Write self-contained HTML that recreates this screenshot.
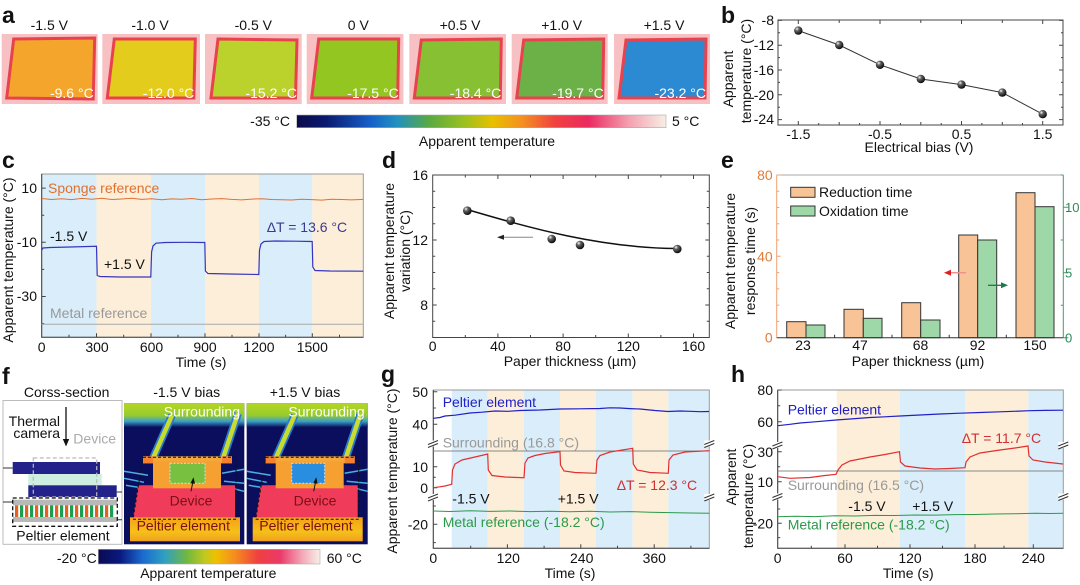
<!DOCTYPE html>
<html><head><meta charset="utf-8"><style>
html,body{margin:0;padding:0;background:#fff;}
svg{display:block;}
text{font-family:"Liberation Sans",Arial,sans-serif;font-size:14px;fill:#111;}
.L{font-weight:bold;font-size:23px;}
.m{text-anchor:middle;}
.e{text-anchor:end;}
</style></head><body>
<svg width="1080" height="585" viewBox="0 0 1080 585" xmlns="http://www.w3.org/2000/svg">
<defs>
<linearGradient id="cbA" x1="0" x2="1" y1="0" y2="0">
<stop offset="0" stop-color="#0b0b4a"/><stop offset="0.08" stop-color="#0a1a70"/><stop offset="0.2" stop-color="#1660c8"/><stop offset="0.27" stop-color="#2090c0"/><stop offset="0.36" stop-color="#5aaa40"/><stop offset="0.45" stop-color="#98c020"/><stop offset="0.53" stop-color="#e8c000"/><stop offset="0.61" stop-color="#f59020"/><stop offset="0.70" stop-color="#f04040"/><stop offset="0.79" stop-color="#ea2a60"/><stop offset="0.9" stop-color="#f4a0b0"/><stop offset="1" stop-color="#f6efe6"/>
</linearGradient>
<linearGradient id="cbF" x1="0" x2="1" y1="0" y2="0">
<stop offset="0" stop-color="#0a0a50"/><stop offset="0.1" stop-color="#0a1a80"/><stop offset="0.2" stop-color="#1a6ad0"/><stop offset="0.3" stop-color="#30a0c0"/><stop offset="0.4" stop-color="#70b840"/><stop offset="0.48" stop-color="#c0c820"/><stop offset="0.53" stop-color="#f0c000"/><stop offset="0.62" stop-color="#f58a20"/><stop offset="0.72" stop-color="#f04040"/><stop offset="0.82" stop-color="#ea3a68"/><stop offset="0.92" stop-color="#f4a8b8"/><stop offset="1" stop-color="#f7f0e6"/>
</linearGradient>
<radialGradient id="sph" cx="0.35" cy="0.3" r="0.75"><stop offset="0" stop-color="#fff"/><stop offset="0.3" stop-color="#666"/><stop offset="1" stop-color="#000"/></radialGradient>
<linearGradient id="topband" x1="0" x2="0" y1="0" y2="1"><stop offset="0" stop-color="#b4d626"/><stop offset="0.5" stop-color="#98cc2c"/><stop offset="0.75" stop-color="#3aa0c8"/><stop offset="1" stop-color="#0b0e5c"/></linearGradient>
<linearGradient id="botband" x1="0" x2="0" y1="0" y2="1"><stop offset="0" stop-color="#f5a018"/><stop offset="0.6" stop-color="#f6c018"/><stop offset="1" stop-color="#f0a020"/></linearGradient>
</defs>

<!-- ============ Panel a ============ -->
<text class="L" x="2" y="23">a</text>
<g>
<text class="m" x="49.3" y="30">-1.5 V</text>
<text class="m" x="150" y="30">-1.0 V</text>
<text class="m" x="253.3" y="30">-0.5 V</text>
<text class="m" x="358.3" y="30">0 V</text>
<text class="m" x="460" y="30">+0.5 V</text>
<text class="m" x="561.7" y="30">+1.0 V</text>
<text class="m" x="664" y="30">+1.5 V</text>
</g>
<g transform="translate(1.7,34)"><rect width="96" height="70" fill="#f7c0c2"/><polygon points="12,5 93,4 91.5,65 5,64" fill="#f3a52c" stroke="#e8424e" stroke-width="3"/><text class="e" x="92" y="64" style="fill:#fff">-9.6 °C</text></g>
<g transform="translate(102.3,34)"><rect width="97.7" height="70" fill="#f7c0c2"/><polygon points="12,5 93,5 91.5,64 5,64" fill="#e3cc1c" stroke="#e8424e" stroke-width="3"/><text class="e" x="92" y="64" style="fill:#fff">-12.0 °C</text></g>
<g transform="translate(205,34)"><rect width="96.7" height="70" fill="#f7c0c2"/><polygon points="13,5 92,6 90.5,64 6,64" fill="#bcd22c" stroke="#e8424e" stroke-width="3"/><text class="e" x="92" y="64" style="fill:#fff">-15.2 °C</text></g>
<g transform="translate(306.7,34)"><rect width="96.7" height="70" fill="#f7c0c2"/><polygon points="12,5 92,5 91,64 5,64" fill="#93c620" stroke="#e8424e" stroke-width="3"/><text class="e" x="92" y="64" style="fill:#fff">-17.5 °C</text></g>
<g transform="translate(409.3,34)"><rect width="96.7" height="70" fill="#f7c0c2"/><polygon points="12,6 92,5 91,64 5,64" fill="#88c034" stroke="#e8424e" stroke-width="3"/><text class="e" x="92" y="64" style="fill:#fff">-18.4 °C</text></g>
<g transform="translate(511.7,34)"><rect width="96" height="70" fill="#f7c0c2"/><polygon points="12,6 92,5 91,64 5,64" fill="#6cb048" stroke="#e8424e" stroke-width="3"/><text class="e" x="92" y="64" style="fill:#fff">-19.7 °C</text></g>
<g transform="translate(614,34)"><rect width="96" height="70" fill="#f7c0c2"/><polygon points="12,6 92,5 91,64 5,64" fill="#2c8ad2" stroke="#e8424e" stroke-width="3"/><text class="e" x="92" y="64" style="fill:#fff">-23.2 °C</text></g>
<rect x="296.7" y="115" width="369.3" height="12.7" fill="url(#cbA)" stroke="#aaa" stroke-width="0.6"/>
<text class="e" x="290" y="126">-35 °C</text>
<text x="672" y="126">5 °C</text>
<text class="m" x="487" y="146">Apparent temperature</text>

<!-- ============ Panel b ============ -->
<text class="L" x="721" y="23">b</text>
<rect x="778" y="20" width="285" height="105" fill="none" stroke="#444" stroke-width="1"/>
<g stroke="#444" stroke-width="1">
<path d="M778,20.4h4M778,45.2h4M778,70h4M778,94.8h4M778,119.6h4M1063,20.4h-4M1063,45.2h-4M1063,70h-4M1063,94.8h-4M1063,119.6h-4"/>
<path d="M778,32.8h2M778,57.6h2M778,82.4h2M778,107.2h2M1063,32.8h-2M1063,57.6h-2M1063,82.4h-2M1063,107.2h-2"/>
<path d="M798.3,125v-4M880,125v-4M961.5,125v-4M1042.7,125v-4M839.2,125v-3M920.8,125v-3M1002.3,125v-3M818.7,125v-2M859.6,125v-2M900.4,125v-2M941.2,125v-2M981.9,125v-2M1022.5,125v-2"/>
<path d="M798.3,20v4M880,20v4M961.5,20v4M1042.7,20v4M839.2,20v3M920.8,20v3M1002.3,20v3"/>
</g>
<text class="e" x="774" y="25">-8</text>
<text class="e" x="774" y="50">-12</text>
<text class="e" x="774" y="75">-16</text>
<text class="e" x="774" y="100">-20</text>
<text class="e" x="774" y="124">-24</text>
<text class="m" x="798.3" y="139">-1.5</text>
<text class="m" x="880" y="139">-0.5</text>
<text class="m" x="961.5" y="139">0.5</text>
<text class="m" x="1042.7" y="139">1.5</text>
<text class="m" x="919" y="152">Electrical bias (V)</text>
<text class="m" transform="translate(733,79) rotate(-90)">Apparent</text>
<text class="m" transform="translate(751,71) rotate(-90)">temperature (°C)</text>
<polyline points="798.3,30.6 839.2,45 880,64.8 920.8,79 961.5,84.6 1002.3,92.6 1042.7,114.2" fill="none" stroke="#333" stroke-width="1"/>
<g fill="url(#sph)"><circle cx="798.3" cy="30.6" r="4.2"/><circle cx="839.2" cy="45" r="4.2"/><circle cx="880" cy="64.8" r="4.2"/><circle cx="920.8" cy="79" r="4.2"/><circle cx="961.5" cy="84.6" r="4.2"/><circle cx="1002.3" cy="92.6" r="4.2"/><circle cx="1042.7" cy="114.2" r="4.2"/></g>

<!-- ============ Panel c ============ -->
<text class="L" x="2" y="168">c</text>
<rect x="41.7" y="174" width="54.8" height="163.3" fill="#d9eefa"/>
<rect x="96.5" y="174" width="54.5" height="163.3" fill="#fdeed9"/>
<rect x="151" y="174" width="54" height="163.3" fill="#d9eefa"/>
<rect x="205" y="174" width="54" height="163.3" fill="#fdeed9"/>
<rect x="259" y="174" width="53.3" height="163.3" fill="#d9eefa"/>
<rect x="312.3" y="174" width="51" height="163.3" fill="#fdeed9"/>
<rect x="41.7" y="174" width="321.6" height="163.3" fill="none" stroke="#999" stroke-width="1"/>
<path d="M41.7,174V337.3H363.3" fill="none" stroke="#444" stroke-width="1"/>
<g stroke="#444" stroke-width="1">
<path d="M41.7,188.1h4M41.7,242.3h4M41.7,296.5h4M41.7,215.2h2.5M41.7,269.4h2.5M41.7,323.6h2.5"/>
<path d="M96.5,337.3v-4M151,337.3v-4M205,337.3v-4M259,337.3v-4M312.3,337.3v-4M69,337.3v-2.5M123.7,337.3v-2.5M178,337.3v-2.5M232,337.3v-2.5M285.6,337.3v-2.5M339.5,337.3v-2.5"/>
</g>
<polyline fill="none" stroke="#e07030" stroke-width="1" points="41.7,198.5 51.7,199.5 61.7,198.8 71.7,199.6 81.7,198.4 91.7,199.2 101.7,198.2 111.7,199.5 121.7,199 131.7,198.3 141.7,199.4 151.7,198.7 161.7,199.8 171.7,198.9 181.7,199.3 191.7,198.5 201.7,199.7 211.7,199 221.7,198.6 231.7,199.4 241.7,199.9 251.7,199.1 261.7,198.7 271.7,199.5 281.7,199.8 291.7,200 301.7,199.3 311.7,199.6 321.7,200.1 331.7,199.2 341.7,199.5 351.7,199.9 363.3,199.4"/>
<path fill="none" stroke="#3535c0" stroke-width="1.2" d="M41.7,250 L43,248 L50,247.5 L70,247 L96.5,246.3 L97.2,275.5 L100,276.5 L120,277 L150.8,277 L151.6,252 L153,246 L156,243.2 L165,242.5 L185,242.3 L204.8,242.5 L205.4,271 L208,273.5 L230,274 L258.8,274.5 L259.5,250 L261,244 L264,241.5 L275,241 L295,241.2 L312.2,241.5 L312.8,267 L315,270.5 L330,271 L363.3,271.2"/>
<line x1="41.7" y1="324.3" x2="363.3" y2="324.3" stroke="#aaa" stroke-width="1"/>
<text x="48" y="193" style="fill:#e07030">Sponge reference</text>
<text x="50" y="241">-1.5 V</text>
<text x="104" y="269">+1.5 V</text>
<text x="266.7" y="232" style="fill:#3a3a90">ΔT = 13.6 °C</text>
<text x="50" y="318" style="fill:#999">Metal reference</text>
<text class="e" x="37" y="193">10</text>
<text class="e" x="37" y="247">-10</text>
<text class="e" x="37" y="301">-30</text>
<text class="m" x="41.7" y="352">0</text>
<text class="m" x="97" y="352">300</text>
<text class="m" x="151.5" y="352">600</text>
<text class="m" x="205" y="352">900</text>
<text class="m" x="259" y="352">1200</text>
<text class="m" x="312.3" y="352">1500</text>
<text class="m" x="201" y="367">Time (s)</text>
<text class="m" transform="translate(13,260) rotate(-90)">Apparent temperature (°C)</text>

<!-- ============ Panel d ============ -->
<text class="L" x="382" y="168">d</text>
<rect x="432.7" y="175" width="276.6" height="162.5" fill="none" stroke="#444" stroke-width="1"/>
<g stroke="#444" stroke-width="1">
<path d="M432.7,175h4M432.7,240h4M432.7,305h4M709.3,175h-4M709.3,240h-4M709.3,305h-4"/>
<path d="M432.7,191.25h2.5M432.7,207.5h2.5M432.7,223.75h2.5M432.7,256.25h2.5M432.7,272.5h2.5M432.7,288.75h2.5M432.7,321.25h2.5M709.3,191.25h-2.5M709.3,207.5h-2.5M709.3,223.75h-2.5M709.3,256.25h-2.5M709.3,272.5h-2.5M709.3,288.75h-2.5M709.3,321.25h-2.5"/>
<path d="M497.9,337.5v-4M563.1,337.5v-4M628.3,337.5v-4M693.5,337.5v-4M465.3,337.5v-2.5M530.5,337.5v-2.5M595.7,337.5v-2.5M660.9,337.5v-2.5"/>
<path d="M497.9,175v4M563.1,175v4M628.3,175v4M693.5,175v4M465.3,175v2.5M530.5,175v2.5M595.7,175v2.5M660.9,175v2.5"/>
</g>
<path d="M467,209.5 C530,228 600,248 677,248.5" fill="none" stroke="#111" stroke-width="1.5"/>
<g fill="url(#sph)"><circle cx="467.3" cy="210.7" r="4.3"/><circle cx="510.7" cy="220.7" r="4.3"/><circle cx="551.7" cy="239" r="4.3"/><circle cx="580" cy="245" r="4.3"/><circle cx="677.3" cy="249" r="4.3"/></g>
<line x1="502" y1="237.3" x2="533" y2="237.3" stroke="#888" stroke-width="1"/>
<polygon points="497,237.3 504,234.8 504,239.8" fill="#222"/>
<text class="e" x="428" y="180">16</text>
<text class="e" x="428" y="245">12</text>
<text class="e" x="428" y="310">8</text>
<text class="m" x="432.7" y="351">0</text>
<text class="m" x="497.9" y="351">40</text>
<text class="m" x="563.1" y="351">80</text>
<text class="m" x="628.3" y="351">120</text>
<text class="m" x="693.5" y="351">160</text>
<text class="m" x="570" y="366">Paper thickness (µm)</text>
<text class="m" transform="translate(394,251) rotate(-90)">Apparent temperature</text>
<text class="m" transform="translate(410,251) rotate(-90)">variation (°C)</text>

<!-- ============ Panel e ============ -->
<text class="L" x="721" y="168">e</text>
<g stroke="#333" stroke-width="1">
<rect x="786.7" y="321.7" width="19.3" height="16" fill="#f8c497"/><rect x="806" y="325" width="19" height="12.7" fill="#9fd8a8"/>
<rect x="844" y="309.3" width="19.3" height="28.4" fill="#f8c497"/><rect x="863.3" y="318.3" width="18.7" height="19.4" fill="#9fd8a8"/>
<rect x="901.7" y="302.7" width="19" height="35" fill="#f8c497"/><rect x="920.7" y="320" width="19.3" height="17.7" fill="#9fd8a8"/>
<rect x="958.7" y="235" width="19" height="102.7" fill="#f8c497"/><rect x="977.7" y="240" width="19" height="97.7" fill="#9fd8a8"/>
<rect x="1016" y="192.7" width="19" height="145" fill="#f8c497"/><rect x="1035" y="206.7" width="19" height="131" fill="#9fd8a8"/>
</g>
<line x1="776.7" y1="175" x2="1063.3" y2="175" stroke="#aaa" stroke-width="1"/>
<line x1="776.7" y1="175" x2="776.7" y2="337.7" stroke="#f0a070" stroke-width="1"/>
<line x1="1063.3" y1="175" x2="1063.3" y2="337.7" stroke="#4a9a6a" stroke-width="1"/>
<line x1="776.7" y1="337.7" x2="1063.3" y2="337.7" stroke="#333" stroke-width="1"/>
<g stroke="#f0a070" stroke-width="1"><path d="M776.7,175h4M776.7,191.3h2.5M776.7,207.5h2.5M776.7,223.8h2.5M776.7,240h2.5M776.7,256.3h4M776.7,272.6h2.5M776.7,288.9h2.5M776.7,305.1h2.5M776.7,321.4h2.5"/></g>
<g stroke="#4a9a6a" stroke-width="1"><path d="M1063.3,207.3h5M1063.3,272.7h5M1063.3,337.7h5M1063.3,240h-2.5M1063.3,305.2h-2.5M1063.3,175h-2.5"/></g>
<g stroke="#333" stroke-width="1"><path d="M834.6,337.7v-3M892,337.7v-3M949.2,337.7v-3M1006.3,337.7v-3"/></g>
<rect x="790.7" y="187.3" width="24.3" height="10" fill="#f8c497" stroke="#333" stroke-width="1"/>
<rect x="790.7" y="206" width="24.3" height="10" fill="#9fd8a8" stroke="#333" stroke-width="1"/>
<text x="819" y="197">Reduction time</text>
<text x="819" y="216">Oxidation time</text>
<line x1="950" y1="272.7" x2="966" y2="272.7" stroke="#f09090" stroke-width="1.5"/>
<polygon points="944,272.7 951,269.7 951,275.7" fill="#e02020"/>
<line x1="988" y1="285.3" x2="1002" y2="285.3" stroke="#1a7a4a" stroke-width="1.3"/>
<polygon points="1008,285.3 1001,282.3 1001,288.3" fill="#1a7a4a"/>
<text class="e" x="772.7" y="180" style="fill:#e07b39">80</text>
<text class="e" x="772.7" y="261.7" style="fill:#e07b39">40</text>
<text class="e" x="772.7" y="342.7" style="fill:#e07b39">0</text>
<text x="1065" y="212" style="fill:#2e8b57;font-size:13px">10</text>
<text x="1065" y="277.4" style="fill:#2e8b57;font-size:13px">5</text>
<text x="1065" y="342.4" style="fill:#2e8b57;font-size:13px">0</text>
<text class="m" x="803" y="350">23</text>
<text class="m" x="860" y="350">47</text>
<text class="m" x="920.5" y="350">68</text>
<text class="m" x="977.5" y="350">92</text>
<text class="m" x="1035" y="350">150</text>
<text class="m" x="918" y="366">Paper thickness (µm)</text>
<text class="m" transform="translate(735,261) rotate(-90)">Apparent temperature</text>
<text class="m" transform="translate(755,261) rotate(-90)">response time (s)</text>

<!-- ============ Panel f ============ -->
<text class="L" x="2" y="384">f</text>
<text class="m" x="66.7" y="397">Corss-section</text>
<text class="m" x="186.7" y="397">-1.5 V bias</text>
<text class="m" x="305" y="397">+1.5 V bias</text>
<rect x="3" y="400.5" width="119" height="143.8" fill="#fff" stroke="#bbb" stroke-width="1"/>
<text class="e" x="60" y="426">Thermal</text>
<text class="e" x="60" y="438">camera</text>
<line x1="66" y1="407" x2="66" y2="440" stroke="#111" stroke-width="1.3"/>
<polygon points="66,446.5 62.8,439 69.2,439" fill="#111"/>
<text x="73.3" y="443.5" style="fill:#aaa">Device</text>
<rect x="28.3" y="474" width="73.4" height="11.3" fill="#cdeee0"/>
<rect x="12.7" y="462" width="87.3" height="12" fill="#22228a"/>
<rect x="28.3" y="485.3" width="88.4" height="11.7" fill="#22228a"/>
<rect x="33.3" y="458" width="63.4" height="39" fill="none" stroke="#bbb" stroke-width="1.2" stroke-dasharray="4,2.5"/>
<g stroke="#333" stroke-width="1"><path d="M3,468H12.7M116.7,492H122M3,502H12.7M117.3,519.7H122"/></g>
<rect x="13" y="499.7" width="104" height="5.6" fill="#b8b8b8"/>
<rect x="13" y="517" width="104" height="5" fill="#b8b8b8"/>
<g fill="#e8601f">
<rect x="15" y="505.3" width="3.2" height="11.7"/><rect x="25" y="505.3" width="3.2" height="11.7"/><rect x="35" y="505.3" width="3.2" height="11.7"/><rect x="45" y="505.3" width="3.2" height="11.7"/><rect x="55" y="505.3" width="3.2" height="11.7"/><rect x="65" y="505.3" width="3.2" height="11.7"/><rect x="75" y="505.3" width="3.2" height="11.7"/><rect x="85" y="505.3" width="3.2" height="11.7"/><rect x="95" y="505.3" width="3.2" height="11.7"/><rect x="105" y="505.3" width="3.2" height="11.7"/></g>
<g fill="#1a9e50">
<rect x="20" y="505.3" width="3.2" height="11.7"/><rect x="30" y="505.3" width="3.2" height="11.7"/><rect x="40" y="505.3" width="3.2" height="11.7"/><rect x="50" y="505.3" width="3.2" height="11.7"/><rect x="60" y="505.3" width="3.2" height="11.7"/><rect x="70" y="505.3" width="3.2" height="11.7"/><rect x="80" y="505.3" width="3.2" height="11.7"/><rect x="90" y="505.3" width="3.2" height="11.7"/><rect x="100" y="505.3" width="3.2" height="11.7"/><rect x="110" y="505.3" width="3.2" height="11.7"/></g>
<rect x="12.7" y="498" width="104.6" height="28.3" fill="none" stroke="#111" stroke-width="1.3" stroke-dasharray="4,2.5"/>
<text class="m" x="63" y="540.5">Peltier element</text>

<!-- thermal left -->
<g transform="translate(124,403.3)">
<rect width="120.3" height="141" fill="#0b0e5c"/>
<rect width="120.3" height="24" fill="url(#topband)"/>
<path d="M48,12 L29,55 M114,10 L99,55" stroke="#2a7ad0" stroke-width="8" fill="none"/>
<path d="M48,12 L29,55 M114,10 L99,55" stroke="#c8dc30" stroke-width="4.5" fill="none"/>
<path d="M0,68 L24,72 M0,75 L20,79 M2,82 L14,84 M98,70 L120,66 M100,78 L120,80 M104,84 L120,88" stroke="#4ab0e0" stroke-width="1.5" fill="none"/>
<polygon points="14,82 111,82 111,115 9,115" fill="#f03c5a"/>
<rect x="6" y="114" width="110" height="24" fill="url(#botband)"/>
<rect x="19" y="53" width="89" height="7" fill="#f5a83a"/>
<rect x="19" y="53" width="10" height="7" fill="#f58030"/><rect x="98" y="53" width="10" height="7" fill="#f58030"/>
<rect x="29" y="58" width="68" height="27" fill="#f5a030"/>
<rect x="46" y="60" width="35" height="20" fill="#78c040" stroke="#ddd" stroke-width="1" stroke-dasharray="2,1.5"/>
<polygon points="19,54 112,54 112,116 9,116" fill="none" stroke="#111" stroke-width="1" stroke-dasharray="3,2"/>
<line x1="67" y1="88" x2="69" y2="78" stroke="#111" stroke-width="1"/>
<polygon points="69.5,74 66.5,80 71,80.5" fill="#111"/>
<text x="116" y="13" class="e" style="fill:#fff">Surrounding</text>
<text class="m" x="67" y="102" style="fill:#7a1010">Device</text>
<text class="m" x="59.3" y="127" style="fill:#7a1010">Peltier element</text>
</g>
<!-- thermal right -->
<g transform="translate(246.7,403.3)">
<rect width="121" height="141" fill="#0b0e5c"/>
<rect width="121" height="24" fill="url(#topband)"/>
<path d="M48,12 L29,55 M114,10 L99,55" stroke="#2a7ad0" stroke-width="8" fill="none"/>
<path d="M48,12 L29,55 M114,10 L99,55" stroke="#c8dc30" stroke-width="4.5" fill="none"/>
<path d="M0,68 L24,72 M0,75 L20,79 M2,82 L14,84 M98,70 L121,66 M100,78 L121,80 M104,84 L121,88" stroke="#4ab0e0" stroke-width="1.5" fill="none"/>
<polygon points="14,82 111,82 111,115 9,115" fill="#f03c5a"/>
<rect x="6" y="114" width="110" height="24" fill="url(#botband)"/>
<rect x="19" y="53" width="89" height="7" fill="#f5a83a"/>
<rect x="19" y="53" width="10" height="7" fill="#f58030"/><rect x="98" y="53" width="10" height="7" fill="#f58030"/>
<rect x="29" y="58" width="68" height="27" fill="#f5a030"/>
<rect x="45" y="60" width="33" height="20" fill="#2a8ee0" stroke="#ddd" stroke-width="1" stroke-dasharray="2,1.5"/>
<polygon points="19,54 112,54 112,116 9,116" fill="none" stroke="#111" stroke-width="1" stroke-dasharray="3,2"/>
<line x1="67" y1="88" x2="69" y2="78" stroke="#111" stroke-width="1"/>
<polygon points="69.5,74 66.5,80 71,80.5" fill="#111"/>
<text x="118" y="13" class="e" style="fill:#fff">Surrounding</text>
<text class="m" x="68.3" y="102" style="fill:#7a1010">Device</text>
<text class="m" x="59.3" y="127" style="fill:#7a1010">Peltier element</text>
</g>
<rect x="98.3" y="549.3" width="221.7" height="14.7" fill="url(#cbF)" stroke="#aaa" stroke-width="0.6"/>
<text class="e" x="96.7" y="563">-20 °C</text>
<text x="326.7" y="563">60 °C</text>
<text class="m" x="208.3" y="578">Apparent temperature</text>

<!-- ============ Panel g ============ -->
<text class="L" x="381" y="382">g</text>
<rect x="451.7" y="390" width="36" height="158.3" fill="#d9eefa"/>
<rect x="487.7" y="390" width="36.3" height="158.3" fill="#fdeed9"/>
<rect x="524" y="390" width="36" height="158.3" fill="#d9eefa"/>
<rect x="560" y="390" width="36" height="158.3" fill="#fdeed9"/>
<rect x="596" y="390" width="36.7" height="158.3" fill="#d9eefa"/>
<rect x="632.7" y="390" width="35.6" height="158.3" fill="#fdeed9"/>
<rect x="668.3" y="390" width="41" height="158.3" fill="#d9eefa"/>
<rect x="433.3" y="390" width="276" height="158.3" fill="none" stroke="#999" stroke-width="1"/>
<path d="M433.3,390V548.3H709.3" fill="none" stroke="#444" stroke-width="1"/>
<g stroke="#444" stroke-width="1">
<path d="M433.3,391.7h4M433.3,424.3h4M433.3,466.7h4M433.3,487.7h4M433.3,524.3h4M433.3,408h2.5M433.3,477.2h2.5M433.3,506h2.5M433.3,542.6h2.5"/>
<path d="M507.4,548.3v-4M580.8,548.3v-4M654.2,548.3v-4M470.7,548.3v-2.5M544.1,548.3v-2.5M617.5,548.3v-2.5M690.9,548.3v-2.5"/>
</g>
<line x1="433.3" y1="451" x2="709.3" y2="451" stroke="#888" stroke-width="1"/>
<polyline fill="none" stroke="#2020c8" stroke-width="1.2" points="433.3,418.3 440,417.5 445,416 455,415.2 470,413 482,412.2 495,411 508,411.3 520,410.5 540,410 560,409 580,408.8 600,408.5 610,407.8 620,408 630,408.6 640,409 655,410.5 668,411.5 680,411 690,411.3 700,411.7 709,411.5"/>
<path fill="none" stroke="#e03030" stroke-width="1.2" d="M433.3,487.7 L440,486.8 L445,486 L451.7,484.3 L452.5,470 L455,464 L462,460 L475,457 L487.7,454 L488.3,470 L492,475.5 L505,477 L524,477.7 L525,463 L528,458 L535,455.5 L545,453.5 L560,451.7 L560.5,465 L564,471 L575,472.5 L596,473.3 L597,460 L600,455.5 L610,452 L632.7,448.3 L633.3,464 L637,470 L650,472.5 L668.3,473.3 L669,460 L673,455 L685,452 L709.3,450.7"/>
<polyline fill="none" stroke="#2a9a4a" stroke-width="1" points="433.3,511 450,511.5 470,510.8 490,511.4 510,511 530,511.6 550,511.2 570,511.7 590,511.3 610,512 630,511.6 650,512.3 670,512.6 690,513 709.3,513.3"/>
<g>
<rect x="428" y="440.5" width="10" height="6" fill="#fff"/><path d="M428,444.5 L438,440.5 M428,447.5 L438,443.5" stroke="#333" stroke-width="1"/>
<rect x="428" y="494" width="10" height="6" fill="#fff"/><path d="M428,498 L438,494 M428,501 L438,497" stroke="#333" stroke-width="1"/>
<rect x="704.3" y="440.5" width="10" height="6" fill="#fff"/><path d="M704.3,444.5 L714.3,440.5 M704.3,447.5 L714.3,443.5" stroke="#333" stroke-width="1"/>
<rect x="704.3" y="494" width="10" height="6" fill="#fff"/><path d="M704.3,498 L714.3,494 M704.3,501 L714.3,497" stroke="#333" stroke-width="1"/>
</g>
<text x="442.7" y="407" style="fill:#2020c8">Peltier element</text>
<text x="442.7" y="447.5" style="fill:#999">Surrounding (16.8 °C)</text>
<text x="452.3" y="503.5">-1.5 V</text>
<text x="557.7" y="503.5">+1.5 V</text>
<text x="616.7" y="490" style="fill:#d03030">ΔT = 12.3 °C</text>
<text x="442.7" y="527" style="fill:#2a9a4a">Metal reference (-18.2 °C)</text>
<text class="e" x="428" y="397">50</text>
<text class="e" x="428" y="429.5">40</text>
<text class="e" x="428" y="472">10</text>
<text class="e" x="428" y="493">0</text>
<text class="e" x="428" y="529.5">-20</text>
<text class="m" x="433.3" y="563">0</text>
<text class="m" x="508.3" y="563">120</text>
<text class="m" x="581.7" y="563">240</text>
<text class="m" x="654.3" y="563">360</text>
<text class="m" x="570" y="578">Time (s)</text>
<text class="m" transform="translate(397,471) rotate(-90)">Apparent temperature (°C)</text>

<!-- ============ Panel h ============ -->
<text class="L" x="731" y="382">h</text>
<rect x="836.7" y="390" width="63.3" height="158.3" fill="#fdeed9"/>
<rect x="900" y="390" width="65" height="158.3" fill="#d9eefa"/>
<rect x="965" y="390" width="63.3" height="158.3" fill="#fdeed9"/>
<rect x="1028.3" y="390" width="35" height="158.3" fill="#d9eefa"/>
<rect x="777.7" y="390" width="285.6" height="158.3" fill="none" stroke="#999" stroke-width="1"/>
<path d="M777.7,390V548.3H1063.3" fill="none" stroke="#444" stroke-width="1"/>
<g stroke="#444" stroke-width="1">
<path d="M777.7,390h4M777.7,421.7h4M777.7,451.7h4M777.7,481.7h4M777.7,523.3h4M777.7,405.8h2.5M777.7,466.7h2.5M777.7,509h2.5M777.7,537.6h2.5"/>
<path d="M845,548.3v-4M910,548.3v-4M975,548.3v-4M1033.3,548.3v-4M811.3,548.3v-2.5M877.5,548.3v-2.5M942.5,548.3v-2.5M1004,548.3v-2.5"/>
</g>
<line x1="777.7" y1="471" x2="1063.3" y2="471" stroke="#888" stroke-width="1"/>
<polyline fill="none" stroke="#2020c8" stroke-width="1.2" points="777.7,425.7 790,424.3 800,423 815,421.8 836,420 850,419 870,417.5 885,416.8 900,416 920,415 940,414 960,413.2 980,412.5 1000,411.8 1030,410.7 1045,410.4 1063,410.2"/>
<path fill="none" stroke="#e03030" stroke-width="1.2" d="M777.7,476.7 L790,478.3 L810,477.5 L825,475.5 L836,474.3 L838,470 L842,465 L850,461 L870,457 L885,454.5 L899.5,451.7 L900.5,462 L905,466 L920,468 L935,469 L950,468.5 L965,467.7 L966,462 L970,457 L980,453 L1000,450 L1015,448 L1028,446 L1029,456 L1033,460 L1045,462 L1063,464"/>
<polyline fill="none" stroke="#2a9a4a" stroke-width="1" points="777.7,516.7 795,516.3 815,516.6 835,515.8 855,516 875,515.4 895,515.5 915,515 935,515.1 955,514.6 975,514.5 995,514 1015,513.8 1035,513.2 1050,513.5 1063.3,513.3"/>
<g>
<rect x="772.4" y="442" width="10" height="6" fill="#fff"/><path d="M772.4,446 L782.4,442 M772.4,449 L782.4,445" stroke="#333" stroke-width="1"/>
<rect x="772.4" y="493.5" width="10" height="6" fill="#fff"/><path d="M772.4,497.5 L782.4,493.5 M772.4,500.5 L782.4,496.5" stroke="#333" stroke-width="1"/>
<rect x="1058.3" y="442" width="10" height="6" fill="#fff"/><path d="M1058.3,446 L1068.3,442 M1058.3,449 L1068.3,445" stroke="#333" stroke-width="1"/>
<rect x="1058.3" y="493.5" width="10" height="6" fill="#fff"/><path d="M1058.3,497.5 L1068.3,493.5 M1058.3,500.5 L1068.3,496.5" stroke="#333" stroke-width="1"/>
</g>
<text x="787.7" y="414.5" style="fill:#2020c8">Peltier element</text>
<text x="961.7" y="443" style="fill:#d03030">ΔT = 11.7 °C</text>
<text x="787.7" y="490" style="fill:#999">Surrounding (16.5 °C)</text>
<text x="848.3" y="511">-1.5 V</text>
<text x="912.3" y="511">+1.5 V</text>
<text x="787.7" y="529.5" style="fill:#2a9a4a">Metal reference (-18.2 °C)</text>
<text class="e" x="773" y="395">80</text>
<text class="e" x="773" y="427">60</text>
<text class="e" x="773" y="457">30</text>
<text class="e" x="773" y="487">10</text>
<text class="e" x="773" y="528.5">-20</text>
<text class="m" x="777.7" y="563">0</text>
<text class="m" x="845" y="563">60</text>
<text class="m" x="910" y="563">120</text>
<text class="m" x="975" y="563">180</text>
<text class="m" x="1033.3" y="563">240</text>
<text class="m" x="908.3" y="578">Time (s)</text>
<text class="m" transform="translate(736,477) rotate(-90)">Apparent</text>
<text class="m" transform="translate(753,496) rotate(-90)">temperature (°C)</text>
</svg>
</body></html>
